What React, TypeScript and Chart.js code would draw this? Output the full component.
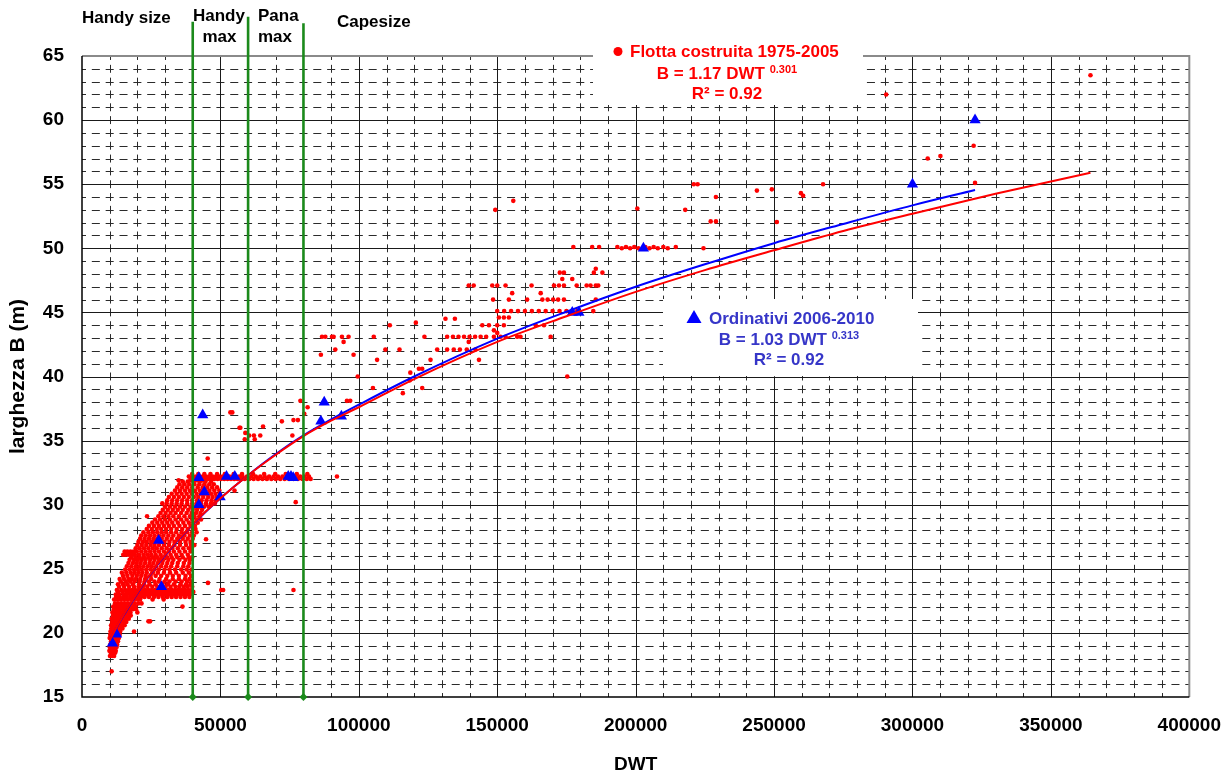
import React, { useEffect, useRef } from "react";
import { Chart, registerables } from "chart.js";

Chart.register(...registerables);

const FONT = "'Liberation Sans', Arial, Helvetica, sans-serif";

// ---- axes ----
const xTickValues = [0, 50000, 100000, 150000, 200000, 250000, 300000, 350000, 400000];
const yTickValues = [15, 20, 25, 30, 35, 40, 45, 50, 55, 60, 65];
const xMinorStep = 10000;
const yMinorStep = 1;

// ---- size classes ----
const categoryLabels = ["Handy size", "Handy max", "Pana max", "Capesize"];
const classLimitDwt = [40000, 60000, 80000];
const classLimitTopB = [67.68, 68.07, 67.55];

// ---- Flotta costruita 1975-2005: rows of [B, DWT in thousands...] ----
const fleetRows: [number, number[]][] = [
  [17.0, [10.7]],
  [18.2, [10.1, 10.9, 11.6]],
  [18.6, [9.9, 10.6, 11.3, 12.2]],
  [19.1, [10.2, 11.0, 11.8, 12.7]],
  [19.6, [10.0, 10.8, 11.5, 12.4, 13.3]],
  [20.1, [10.3, 11.2, 12.0, 12.9, 13.8, 18.8]],
  [20.6, [10.5, 11.4, 12.3, 13.1, 14.2, 15.4]],
  [20.9, [24.0, 24.6]],
  [21.1, [10.7, 11.7, 12.6, 13.6, 14.6, 15.7, 16.9]],
  [21.6, [11.0, 12.0, 13.0, 14.1, 15.1, 16.3, 17.5, 20.0]],
  [22.05, [11.3, 12.4, 13.5, 14.6, 15.8, 17.0, 18.2, 19.3, 36.3]],
  [22.6, [11.6, 12.8, 14.0, 15.2, 16.4, 17.7, 18.9, 20.2, 21.0, 25.5, 29.5]],
  [23.0, [12.2, 13.4, 15.0, 16.2, 17.4, 18.6, 19.8, 21.0, 22.2, 23.4, 24.6, 25.8, 27.0, 28.2, 29.4, 30.6, 31.8, 33.0, 34.2, 35.4, 36.6, 37.8, 39.0]],
  [23.35, [12.6, 14.2, 15.6, 16.8, 18.0, 19.2, 20.4, 21.6, 22.8, 24.0, 25.2, 26.4, 27.6, 28.8, 30.0, 31.2, 32.4, 33.6, 34.8, 36.0, 37.2, 38.4, 39.6, 50.3, 51.0, 76.4]],
  [23.8, [13.0, 14.8, 16.4, 18.4, 20.6, 22.4, 24.4, 26.6, 29.0, 31.0, 33.2, 35.6, 37.6, 39.2]],
  [23.9, [45.5]],
  [24.2, [13.6, 15.2, 16.8, 18.0, 19.4, 21.0, 22.8, 25.0, 28.0, 30.4, 32.8, 35.0, 37.2, 38.8]],
  [24.7, [14.4, 16.0, 17.6, 19.0, 20.4, 21.8, 23.4, 25.6, 27.4, 29.6, 31.8, 34.0, 36.4, 38.6]],
  [25.2, [16.2, 17.8, 19.4, 20.8, 22.2, 23.8, 25.2, 26.8, 28.6, 30.4, 32.2, 34.4, 36.6, 38.4]],
  [25.7, [17.2, 18.8, 20.2, 21.6, 23.0, 24.6, 26.2, 27.8, 29.4, 31.2, 33.0, 35.2, 37.4, 39.0]],
  [26.1, [14.9, 15.8, 16.9, 18.0, 19.1, 20.6, 22.2, 23.6, 25.0, 26.6, 28.4, 30.2, 32.0, 34.0, 36.0, 38.2]],
  [26.6, [19.4, 20.8, 22.4, 24.0, 25.6, 27.0, 28.8, 30.6, 32.6, 34.6, 36.6, 38.6, 39.6]],
  [27.1, [20.4, 22.0, 23.4, 25.0, 26.4, 28.0, 29.8, 31.6, 33.4, 35.4, 37.4, 39.2]],
  [27.3, [44.8]],
  [27.6, [21.4, 23.0, 24.6, 26.2, 27.8, 29.4, 31.2, 33.0, 35.0, 37.0, 39.0, 40.4]],
  [28.1, [23.4, 25.2, 27.0, 28.6, 30.4, 32.2, 34.2, 36.2, 38.2, 40.0, 41.0]],
  [28.6, [25.4, 27.2, 29.0, 30.8, 32.6, 34.6, 36.6, 38.6, 40.2, 41.8]],
  [29.1, [23.5, 27.6, 29.4, 31.2, 33.0, 35.0, 37.0, 39.0, 40.6, 42.4]],
  [29.6, [29.2, 31.0, 32.8, 34.6, 36.4, 38.4, 40.0, 41.6, 43.4]],
  [30.1, [29.0, 30.6, 32.4, 34.2, 36.0, 38.0, 39.8, 41.4, 43.0, 44.8, 46.6, 48.0]],
  [30.2, [77.2]],
  [30.6, [31.4, 33.2, 35.0, 36.8, 38.6, 40.4, 42.0, 43.8, 45.6, 47.2, 48.8]],
  [31.1, [33.6, 35.4, 37.2, 39.0, 40.8, 42.6, 44.4, 46.0, 47.8, 49.6, 55.1]],
  [31.6, [35.2, 37.0, 38.8, 40.6, 42.4, 44.2, 46.0, 47.6]],
  [31.9, [34.9, 39.6, 41.6, 43.6]],
  [32.2, [38.6, 40.0, 41.2, 42.4, 43.6, 44.8, 46.0, 47.2, 48.4, 49.6, 50.8, 52.0, 53.2, 54.4, 55.6, 56.8, 58.0, 59.6, 61.2, 62.8, 64.4, 66.0, 67.6, 69.2, 70.8, 72.4, 74.0, 75.6, 77.2, 78.8, 80.4, 82.0, 92.1]],
  [33.6, [45.4]],
  [35.1, [58.8, 62.4]],
  [35.4, [60.4, 62.1, 64.4, 76.0]],
  [35.6, [59.0]],
  [36.0, [57.2, 56.9]],
  [36.1, [65.4]],
  [36.5, [72.2]],
  [36.6, [76.4, 78.0]],
  [37.1, [80.3]],
  [37.2, [53.6, 54.3]],
  [37.6, [81.5]],
  [38.1, [78.9, 95.7, 96.9]],
];

// second, interleaved set of rows of the dense cloud
const fleetRowsB: [number, number[]][] = [
  [18.45, [10.4, 11.2, 12.0]],
  [18.9, [10.0, 10.8, 11.6, 12.5]],
  [19.35, [10.5, 11.4, 12.2, 13.0]],
  [19.85, [10.2, 11.0, 11.9, 12.8, 13.6]],
  [20.35, [10.6, 11.5, 12.5, 13.4, 14.6]],
  [20.85, [10.9, 11.9, 12.9, 13.9, 15.0, 16.0]],
  [21.35, [11.2, 12.2, 13.3, 14.3, 15.4, 16.5, 17.6]],
  [21.85, [11.5, 12.6, 13.7, 14.9, 16.0, 17.2, 18.4, 19.5]],
  [22.3, [11.9, 13.0, 14.2, 15.4, 16.6, 17.8, 19.0, 20.3, 21.5]],
  [22.8, [12.3, 13.6, 14.9, 16.2, 17.5, 18.8, 20.0, 21.3, 22.6, 24.2, 26.0, 27.6, 29.2, 30.8, 32.4, 34.0, 35.6, 37.2, 38.8]],
  [23.2, [13.0, 14.6, 16.0, 17.2, 18.4, 19.6, 20.8, 22.0, 23.2, 24.4, 25.6, 26.8, 28.0, 29.2, 30.4, 31.6, 32.8, 34.0, 35.2, 36.4, 37.6, 38.8, 40.2]],
  [23.6, [13.4, 15.2, 17.0, 18.8, 20.4, 22.0, 23.6, 25.4, 27.2, 28.4, 30.2, 32.0, 33.8, 35.2, 36.8, 38.2, 39.8]],
  [24.0, [14.0, 15.8, 17.4, 19.0, 20.8, 22.6, 24.2, 26.2, 27.8, 29.8, 31.6, 33.8, 36.0, 38.0, 39.6]],
  [24.45, [14.8, 16.4, 18.2, 19.8, 21.4, 23.0, 24.8, 26.6, 28.6, 30.8, 32.8, 35.0, 37.4, 39.4]],
  [24.95, [15.6, 17.2, 18.8, 20.2, 21.6, 23.2, 24.8, 26.2, 27.8, 29.8, 31.6, 33.6, 35.8, 37.8, 39.6]],
  [25.45, [16.8, 18.4, 19.8, 21.2, 22.8, 24.4, 25.8, 27.4, 29.0, 30.8, 32.6, 34.6, 36.8, 38.8]],
  [25.9, [17.8, 19.4, 20.8, 22.4, 24.0, 25.6, 27.2, 28.8, 30.6, 32.4, 34.4, 36.4, 38.6, 39.8]],
  [26.35, [15.4, 16.4, 17.5, 18.6, 19.8, 21.4, 23.0, 24.6, 26.2, 27.8, 29.6, 31.4, 33.2, 35.2, 37.2, 39.2]],
  [26.85, [20.0, 21.6, 23.2, 24.8, 26.2, 27.8, 29.6, 31.4, 33.4, 35.4, 37.6, 39.4, 40.6]],
  [27.35, [21.0, 22.6, 24.2, 25.8, 27.2, 28.8, 30.6, 32.4, 34.4, 36.4, 38.2, 40.0]],
  [27.85, [22.2, 24.0, 25.6, 27.2, 28.8, 30.4, 32.2, 34.0, 36.0, 38.0, 39.8, 41.4]],
  [28.35, [24.2, 26.0, 27.8, 29.6, 31.4, 33.2, 35.2, 37.2, 39.2, 40.8]],
  [28.85, [26.4, 28.2, 30.0, 31.8, 33.8, 35.8, 37.8, 39.8, 41.4, 43.0]],
  [29.35, [28.4, 30.2, 32.0, 33.8, 35.8, 37.8, 39.6, 41.2, 42.8]],
  [29.85, [30.0, 31.8, 33.6, 35.4, 37.2, 39.2, 40.8, 42.4, 44.2, 45.8]],
  [30.35, [30.8, 32.6, 34.4, 36.2, 38.0, 39.8, 41.6, 43.2, 45.0, 46.8, 48.4]],
  [30.85, [32.4, 34.2, 36.0, 37.8, 39.6, 41.4, 43.0, 44.8, 46.6, 48.2, 49.8]],
  [31.35, [34.4, 36.2, 38.0, 39.8, 41.8, 43.6, 45.2, 47.0, 48.8]],
  [31.8, [36.4, 38.2, 40.4, 42.6, 44.6, 46.6]],
  [32.0, [39.2, 40.6, 41.8, 43.0, 44.2, 45.4, 46.6, 47.8, 49.0, 50.2, 51.4, 52.6, 53.8, 55.0, 56.2, 57.4, 58.8, 60.4, 62.0, 63.6, 65.2, 66.8, 68.4, 70.0, 71.6, 73.2, 74.8, 76.4, 78.0, 79.6, 81.2, 82.6]],
  [32.4, [39.8, 42.0, 44.2, 46.4, 48.8, 51.6, 54.8, 57.8, 61.8, 65.8, 69.8, 73.6, 77.6, 81.4]],
];

// ---- Flotta costruita 1975-2005: [DWT in thousands, B] above 85 000 DWT ----
const fleetMid: [number, number][] = [
  [86.3, 41.7], [86.7, 43.1], [87.9, 43.1], [90.3, 43.1], [90.9, 43.1], [91.5, 42.1], [93.9, 43.1],
  [94.5, 42.7], [96.3, 43.1], [98.1, 41.7], [99.6, 40.0], [105.1, 39.1], [105.4, 43.1], [106.6, 41.3],
  [109.6, 42.1], [111.2, 44.0], [114.7, 42.1], [115.9, 38.7], [118.4, 39.7], [118.6, 40.3], [120.6, 44.2],
  [121.7, 40.6], [122.9, 40.6], [122.9, 39.1], [123.7, 43.1], [125.9, 41.3], [128.3, 42.1], [131.3, 44.5],
  [131.9, 42.1], [131.9, 43.1], [134.0, 43.1], [134.3, 42.1], [134.7, 44.5], [136.0, 43.1], [136.5, 42.1],
  [138.0, 43.1], [139.0, 42.1], [139.7, 42.7], [139.7, 47.1], [140.0, 43.1], [141.5, 47.1], [142.0, 43.1],
  [142.1, 42.1], [143.4, 41.3], [144.0, 43.1], [144.6, 44.0], [146.0, 43.1], [147.0, 44.0], [148.2, 47.1],
  [148.5, 46.0], [148.8, 43.1], [148.8, 43.6], [150.0, 47.1], [150.0, 45.1], [150.0, 44.0], [150.0, 43.4],
  [150.6, 44.6], [151.2, 43.1], [152.4, 44.6], [152.4, 44.0], [152.5, 45.1], [153.0, 47.1], [153.0, 43.1],
  [154.2, 46.0], [154.2, 44.6], [155.0, 45.1], [155.4, 46.5], [157.2, 43.1], [157.5, 45.1], [158.4, 43.1],
  [160.0, 45.1], [160.8, 46.0], [162.4, 47.1], [162.5, 45.1], [163.9, 44.0], [165.0, 45.1], [165.7, 46.5],
  [166.3, 46.0], [166.9, 44.0], [167.5, 45.1], [168.2, 46.0], [169.3, 43.1], [170.0, 45.1], [170.2, 46.0],
  [170.5, 47.1], [172.0, 46.0], [172.3, 47.1], [172.5, 45.1], [172.6, 48.1], [173.5, 47.6], [174.1, 46.0],
  [174.1, 47.1], [174.1, 48.1], [175.0, 45.1], [175.3, 40.0], [177.1, 47.6], [177.5, 50.1], [178.7, 47.1],
  [178.9, 45.1], [182.3, 47.1], [183.7, 47.1], [184.3, 50.1], [184.7, 45.1], [184.9, 48.1], [185.6, 48.4],
  [185.6, 47.1], [185.6, 46.0], [186.5, 47.1], [186.8, 50.1], [188.0, 48.1], [193.4, 50.1], [195.0, 50.0],
  [196.5, 50.1], [198.0, 50.0], [199.5, 50.1], [201.0, 50.0], [203.5, 50.1], [205.0, 50.0], [206.5, 50.1],
  [208.0, 50.0], [210.0, 50.1], [211.6, 50.0], [214.5, 50.1], [224.5, 50.0],
];

const fleetLarge: [number, number][] = [
  [149.3, 53.0], [155.8, 53.7], [200.6, 53.1], [217.9, 53.0], [221.0, 55.0], [222.4, 55.0],
  [227.1, 52.1], [229.0, 52.1], [229.0, 54.0], [243.8, 54.5], [249.2, 54.6], [251.0, 52.05],
  [259.7, 54.3], [260.5, 54.1], [267.7, 55.0], [290.5, 62.0], [305.5, 57.0], [310.1, 57.2],
  [322.1, 58.0], [322.6, 55.1], [364.3, 63.5],
];

// ---- Ordinativi 2006-2010: [DWT in thousands, B] ----
const orders: [number, number][] = [
  [11.0, 19.2], [12.5, 19.9], [27.7, 27.2], [28.7, 23.6], [42.2, 30.0], [42.2, 32.1], [43.6, 37.0],
  [44.2, 31.0], [49.9, 30.6], [52.2, 32.2], [55.2, 32.2], [74.5, 32.2], [75.5, 32.2], [76.3, 32.1],
  [86.3, 36.5], [87.5, 38.0], [93.7, 36.9], [177.1, 45.0], [179.5, 45.0], [202.8, 50.0],
  [300.0, 55.0], [322.6, 60.0],
];

// ---- trend lines as drawn (DWT in thousands, B) ----
const fleetFitDwt = [10.0, 12, 15, 18, 22, 26, 30, 35, 40, 50, 60, 70, 80, 90, 100, 120, 150, 175, 200, 225, 250, 275, 300, 330, 364.3];
const fleetFitB = [19.4, 20.25, 21.4, 22.45, 23.8, 25.0, 26.1, 27.35, 28.5, 30.5, 32.3, 33.9, 35.35, 36.55, 37.6, 39.8, 42.7, 44.7, 46.6, 48.3, 49.85, 51.35, 52.7, 54.25, 55.9];
const ordersFitDwt = [10.3, 12, 15, 18, 22, 26, 30, 35, 40, 50, 60, 70, 80, 90, 100, 120, 150, 175, 200, 225, 250, 275, 300, 322.6];
const ordersFitB = [19.5, 20.2, 21.35, 22.4, 23.75, 24.95, 26.05, 27.3, 28.45, 30.5, 32.3, 33.95, 35.4, 36.65, 37.8, 40.0, 42.95, 45.05, 47.0, 48.75, 50.4, 51.9, 53.35, 54.55];

const rowsToPoints = (rows: [number, number[]][]) =>
  rows.flatMap(([b, list]) => list.map((k) => ({ x: k * 1000, y: b })));
const pairsToPoints = (pairs: [number, number][]) => pairs.map(([k, b]) => ({ x: k * 1000, y: b }));

const fleetPoints = [
  ...rowsToPoints(fleetRows),
  ...rowsToPoints(fleetRowsB),
  ...pairsToPoints(fleetMid),
  ...pairsToPoints(fleetLarge),
];
const orderPoints = pairsToPoints(orders);
const fleetFit = fleetFitDwt.map((k, i) => ({ x: k * 1000, y: fleetFitB[i] }));
const ordersFit = ordersFitDwt.map((k, i) => ({ x: k * 1000, y: ordersFitB[i] }));

const RED = "#FF0000";
const BLUE = "#0000FF";
const BLUE_TEXT = "#3636C8";
const GREEN = "#1B8A1B";

const excelGrid = {
  id: "excelGrid",
  beforeDatasetsDraw(chart: any) {
    const { ctx, chartArea: a, scales } = chart;
    const xs = scales.x;
    const ys = scales.y;
    const crisp = (v: number) => Math.round(v) + 0.5;
    ctx.save();
    ctx.lineWidth = 1;
    ctx.strokeStyle = "#2b2b2b";
    const yPeriod = Math.abs(ys.getPixelForValue(yMinorStep) - ys.getPixelForValue(0));
    ctx.setLineDash([yPeriod * 0.62, yPeriod * 0.38]);
    ctx.lineDashOffset = yPeriod * 0.31;
    for (let v = xs.min + xMinorStep; v < xs.max; v += xMinorStep) {
      if (xTickValues.includes(v)) continue;
      const px = crisp(xs.getPixelForValue(v));
      ctx.beginPath();
      ctx.moveTo(px, a.top);
      ctx.lineTo(px, a.bottom);
      ctx.stroke();
    }
    const xPeriod = Math.abs(xs.getPixelForValue(xMinorStep / 2) - xs.getPixelForValue(0));
    ctx.setLineDash([xPeriod * 0.58, xPeriod * 0.42]);
    ctx.lineDashOffset = xPeriod * 0.29;
    for (let v = ys.min + yMinorStep; v < ys.max; v += yMinorStep) {
      if (yTickValues.includes(v)) continue;
      const py = crisp(ys.getPixelForValue(v));
      ctx.beginPath();
      ctx.moveTo(a.left, py);
      ctx.lineTo(a.right, py);
      ctx.stroke();
    }
    ctx.setLineDash([]);
    ctx.strokeStyle = "#1a1a1a";
    xTickValues.forEach((v) => {
      if (v === xs.min || v === xs.max) return;
      const px = crisp(xs.getPixelForValue(v));
      ctx.beginPath();
      ctx.moveTo(px, a.top);
      ctx.lineTo(px, a.bottom);
      ctx.stroke();
    });
    yTickValues.forEach((v) => {
      if (v === ys.min || v === ys.max) return;
      const py = crisp(ys.getPixelForValue(v));
      ctx.beginPath();
      ctx.moveTo(a.left, py);
      ctx.lineTo(a.right, py);
      ctx.stroke();
    });
    ctx.strokeStyle = "#8a8a8a";
    ctx.lineWidth = 2;
    ctx.beginPath();
    ctx.moveTo(a.left, a.top);
    ctx.lineTo(a.right, a.top);
    ctx.lineTo(a.right, a.bottom);
    ctx.stroke();
    ctx.strokeStyle = "#000";
    ctx.lineWidth = 1.5;
    ctx.beginPath();
    ctx.moveTo(a.left, a.top);
    ctx.lineTo(a.left, a.bottom);
    ctx.lineTo(a.right, a.bottom);
    ctx.stroke();
    ctx.restore();
  },
};

function drawPowerLine(ctx: CanvasRenderingContext2D, main: string, sup: string, cx: number, base: number) {
  ctx.font = `bold 17px ${FONT}`;
  const w1 = ctx.measureText(main + " ").width;
  ctx.font = `bold 11px ${FONT}`;
  const w2 = ctx.measureText(sup).width;
  const left = cx - (w1 + w2) / 2;
  ctx.textAlign = "left";
  ctx.font = `bold 17px ${FONT}`;
  ctx.fillText(main, left, base);
  ctx.font = `bold 11px ${FONT}`;
  ctx.fillText(sup, left + w1, base - 6);
}

const annotations = {
  id: "annotations",
  afterDatasetsDraw(chart: any) {
    const { ctx } = chart;
    ctx.save();
    ctx.fillStyle = "#fff";
    ctx.fillRect(593, 36, 270, 69);
    ctx.fillRect(663, 299, 255, 77);

    ctx.textBaseline = "alphabetic";
    ctx.fillStyle = RED;
    ctx.beginPath();
    ctx.arc(618, 51.5, 4.5, 0, Math.PI * 2);
    ctx.fill();
    ctx.font = `bold 17px ${FONT}`;
    ctx.textAlign = "left";
    ctx.fillText("Flotta costruita 1975-2005", 630, 57);
    drawPowerLine(ctx, "B = 1.17 DWT", "0.301", 727, 78.5);
    ctx.font = `bold 17px ${FONT}`;
    ctx.textAlign = "center";
    ctx.fillText("R² = 0.92", 727, 98.5);

    ctx.fillStyle = BLUE;
    ctx.beginPath();
    ctx.moveTo(694, 310);
    ctx.lineTo(701.5, 323);
    ctx.lineTo(686.5, 323);
    ctx.closePath();
    ctx.fill();
    ctx.fillStyle = BLUE_TEXT;
    ctx.font = `bold 17px ${FONT}`;
    ctx.textAlign = "left";
    ctx.fillText("Ordinativi 2006-2010", 709, 324);
    drawPowerLine(ctx, "B = 1.03 DWT", "0.313", 789, 345);
    ctx.font = `bold 17px ${FONT}`;
    ctx.textAlign = "center";
    ctx.fillText("R² = 0.92", 789, 365);
    ctx.restore();
  },
  afterDraw(chart: any) {
    const { ctx } = chart;
    ctx.save();
    ctx.fillStyle = "#000";
    ctx.font = `bold 17px ${FONT}`;
    ctx.textBaseline = "alphabetic";
    ctx.textAlign = "left";
    ctx.fillText(categoryLabels[0], 82, 23);
    ctx.fillText("Handy", 193, 21);
    ctx.fillText("Pana", 258, 21);
    ctx.fillText(categoryLabels[3], 337, 27);
    ctx.textAlign = "center";
    ctx.fillText("max", 219.5, 42);
    ctx.fillText("max", 275, 42);
    ctx.restore();
  },
};

export default function App() {
  const ref = useRef<HTMLCanvasElement>(null);

  useEffect(() => {
    if (!ref.current) return;
    const greenSets = classLimitDwt.map((d, i) => ({
      label: categoryLabels[i + 1],
      data: [
        { x: d, y: yTickValues[0] },
        { x: d, y: classLimitTopB[i] },
      ],
      showLine: true,
      borderColor: GREEN,
      borderWidth: 2.6,
      pointStyle: "rectRot" as const,
      pointRadius: 4,
      pointHoverRadius: 4,
      pointBackgroundColor: GREEN,
      pointBorderColor: GREEN,
      pointBorderWidth: 0,
      clip: false as const,
    }));

    const chart = new Chart(ref.current, {
      type: "scatter",
      data: {
        datasets: [
          ...greenSets,
          {
            label: "Fit flotta",
            data: fleetFit,
            showLine: true,
            borderColor: RED,
            borderWidth: 2,
            pointRadius: 0,
            pointHoverRadius: 0,
            cubicInterpolationMode: "monotone",
          },
          {
            label: "Fit ordinativi",
            data: ordersFit,
            showLine: true,
            borderColor: BLUE,
            borderWidth: 2,
            pointRadius: 0,
            pointHoverRadius: 0,
            cubicInterpolationMode: "monotone",
          },
          {
            label: "Ordinativi 2006-2010",
            data: orderPoints,
            pointStyle: "triangle",
            pointRadius: 6.5,
            pointHoverRadius: 6.5,
            backgroundColor: BLUE,
            borderColor: BLUE,
            borderWidth: 0,
          },
          {
            label: "Flotta costruita 1975-2005",
            data: fleetPoints,
            pointStyle: "circle",
            pointRadius: 2.3,
            pointHoverRadius: 2.3,
            backgroundColor: RED,
            borderColor: RED,
            borderWidth: 0,
          },
        ] as any,
      },
      options: {
        animation: false,
        responsive: false,
        devicePixelRatio: 1,
        events: [],
        layout: { padding: { left: 0, top: 56, right: 37, bottom: 0 } },
        plugins: {
          legend: { display: false },
          tooltip: { enabled: false },
          title: { display: false },
        },
        scales: {
          x: {
            type: "linear",
            min: 0,
            max: 400000,
            afterBuildTicks: (s: any) => {
              s.ticks = xTickValues.map((value) => ({ value }));
            },
            afterFit: (s: any) => {
              s.height = 81;
            },
            grid: { display: false },
            border: { display: false },
            ticks: {
              color: "#000",
              font: { family: FONT, size: 19, weight: "bold" },
              padding: 9,
              maxRotation: 0,
              autoSkip: false,
              callback: (v: any) => String(v),
            },
            title: {
              display: true,
              text: "DWT",
              color: "#000",
              font: { family: FONT, size: 19, weight: "bold" },
              padding: { top: 0, bottom: 2 },
            },
          },
          y: {
            type: "linear",
            min: 15,
            max: 65,
            afterBuildTicks: (s: any) => {
              s.ticks = yTickValues.map((value) => ({ value }));
            },
            afterFit: (s: any) => {
              s.width = 82;
            },
            grid: { display: false },
            border: { display: false },
            ticks: {
              color: "#000",
              font: { family: FONT, size: 19, weight: "bold" },
              padding: 10,
              callback: (v: any) => String(v),
            },
            title: {
              display: true,
              text: "larghezza B (m)",
              color: "#000",
              font: { family: FONT, size: 21, weight: "bold" },
              padding: { top: 6, bottom: 0 },
            },
          },
        },
      } as any,
      plugins: [excelGrid, annotations],
    });
    return () => chart.destroy();
  }, []);

  return (
    <div style={{ position: "absolute", left: 0, top: 0, width: 1230, height: 778, background: "#fff" }}>
      <canvas ref={ref} width={1230} height={778} style={{ display: "block", width: 1230, height: 778 }} />
    </div>
  );
}
